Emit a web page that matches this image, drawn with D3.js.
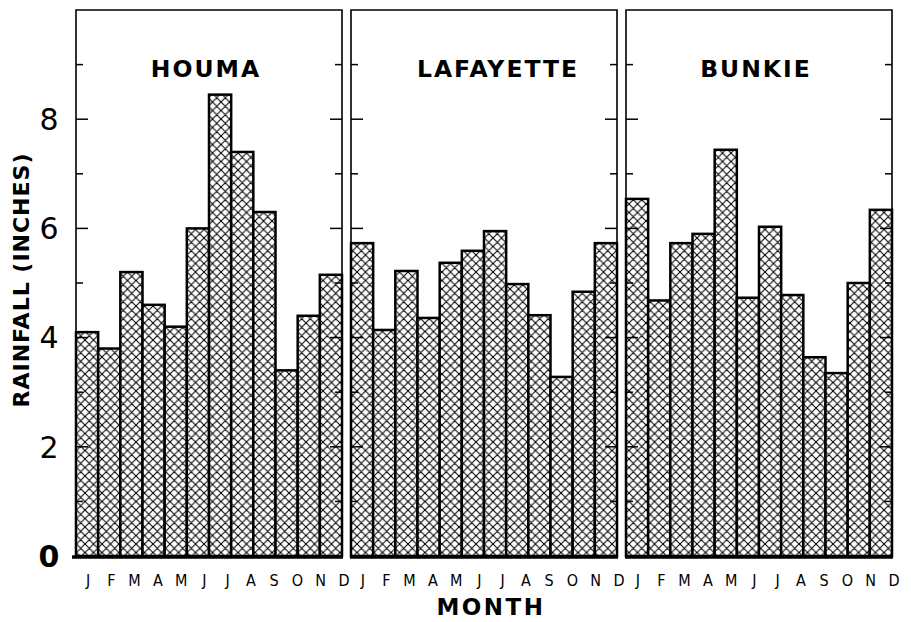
<!DOCTYPE html>
<html>
<head>
<meta charset="utf-8">
<script src="https://cdn.jsdelivr.net/npm/d3@7"></script>
<style>
  body { margin: 0; background: #fff; }
  text { fill: #000; }
</style>
</head>
<body>
<svg id="chart" width="911" height="622"></svg>
<script>
const months = ["J", "F", "M", "A", "M", "J", "J", "A", "S", "O", "N", "D"];
const stations = ["HOUMA", "LAFAYETTE", "BUNKIE"];
const houma = [4.1, 3.8, 5.2, 4.6, 4.2, 6.0, 8.45, 7.4, 6.3, 3.4, 4.4, 5.15];
const lafayette = [5.73, 4.14, 5.22, 4.36, 5.37, 5.59, 5.95, 4.98, 4.41, 3.28, 4.84, 5.73];
const bunkie = [6.54, 4.68, 5.73, 5.9, 7.44, 4.73, 6.03, 4.78, 3.64, 3.35, 5.0, 6.34];
const yLabels = [0, 2, 4, 6, 8];
const yMinorTicks = [1, 2, 3, 4, 5, 6, 7, 8, 9];

const series = [houma, lafayette, bunkie];

const svg = d3.select("#chart");

// cross-hatch fill
const defs = svg.append("defs");
const pat = defs.append("pattern")
  .attr("id", "xhatch")
  .attr("patternUnits", "userSpaceOnUse")
  .attr("width", 8.5)
  .attr("height", 8.5);
pat.append("rect").attr("width", 8.5).attr("height", 8.5).attr("fill", "#fff");
pat.append("path")
  .attr("d", "M0,0L8.5,8.5M8.5,0L0,8.5M-1,7.5L1,9.5M7.5,-1L9.5,1M-1,1L1,-1M7.5,9.5L9.5,7.5")
  .attr("stroke", "#000")
  .attr("stroke-width", 1.05);

const y = d3.scaleLinear().domain([0, 10]).range([556, 10]);

const panel = d3.scaleBand()
  .domain(stations)
  .range([76, 892])
  .paddingInner(0.0327);

const monthIdx = d3.range(months.length);

stations.forEach((name, si) => {
  const x0 = panel(name);
  const x1 = x0 + panel.bandwidth();
  const g = svg.append("g");

  const x = d3.scaleBand().domain(monthIdx).range([x0, x1]);
  // month letters sit a little to the right of the bar centres in the original
  const xl = d3.scalePoint().domain(monthIdx).range([x0 + 12, x1 + 2]);

  // bars
  g.selectAll("rect.bar")
    .data(series[si])
    .enter()
    .append("rect")
    .attr("class", "bar")
    .attr("x", (d, i) => x(i))
    .attr("y", (d) => y(d))
    .attr("width", x.bandwidth())
    .attr("height", (d) => y(0) - y(d))
    .attr("fill", "url(#xhatch)")
    .attr("stroke", "#000")
    .attr("stroke-width", 2.5);

  // frame
  g.append("path")
    .attr("d", `M${x0},${y(0)}V${y(10)}H${x1}V${y(0)}`)
    .attr("fill", "none")
    .attr("stroke", "#000")
    .attr("stroke-width", 1.6);

  // baseline
  g.append("line")
    .attr("x1", x0 - (si === 0 ? 4 : 1))
    .attr("x2", x1 + 1)
    .attr("y1", y(0) + 1)
    .attr("y2", y(0) + 1)
    .attr("stroke", "#000")
    .attr("stroke-width", 3.5);

  // inner ticks on both sides
  const tickLen = (v) => (v % 2 === 0 ? 12 : 7);
  g.selectAll("line.tl")
    .data(yMinorTicks)
    .enter()
    .append("line")
    .attr("x1", x0)
    .attr("x2", (d) => x0 + tickLen(d))
    .attr("y1", (d) => y(d))
    .attr("y2", (d) => y(d))
    .attr("stroke", "#000")
    .attr("stroke-width", 1.5);
  g.selectAll("line.tr")
    .data(yMinorTicks)
    .enter()
    .append("line")
    .attr("x1", x1)
    .attr("x2", (d) => x1 - tickLen(d))
    .attr("y1", (d) => y(d))
    .attr("y2", (d) => y(d))
    .attr("stroke", "#000")
    .attr("stroke-width", 1.5);

  // station title
  g.append("text")
    .attr("x", x0 + panel.bandwidth() / 2 + (si === 1 ? 14 : -3))
    .attr("y", 77)
    .attr("text-anchor", "middle")
    .attr("font-family", "DejaVu Sans")
    .attr("font-weight", "bold")
    .attr("font-size", 23.5)
    .attr("letter-spacing", 2)
    .text(name);

  // month letters
  g.selectAll("text.m")
    .data(monthIdx)
    .enter()
    .append("text")
    .attr("x", (i) => xl(i))
    .attr("y", 586)
    .attr("text-anchor", "middle")
    .attr("font-family", "DejaVu Sans Condensed, DejaVu Sans")
    .attr("font-stretch", "condensed")
    .attr("font-size", 16)
    .text((i) => months[i]);
});

// y labels
svg.selectAll("text.yl")
  .data(yLabels)
  .enter()
  .append("text")
  .attr("x", 49)
  .attr("y", (d) => y(d))
  .attr("dy", "0.36em")
  .attr("text-anchor", "middle")
  .attr("font-family", "DejaVu Sans")
  .attr("font-weight", (d) => (d === 0 ? "bold" : "normal"))
  .attr("font-size", 30)
  .text((d) => d);

// axis titles
svg.append("text")
  .attr("transform", "translate(29,280) rotate(-90)")
  .attr("text-anchor", "middle")
  .attr("font-family", "DejaVu Sans")
  .attr("font-weight", "bold")
  .attr("font-size", 22)
  .attr("letter-spacing", 1)
  .text("RAINFALL (INCHES)");

svg.append("text")
  .attr("x", 491)
  .attr("y", 615)
  .attr("text-anchor", "middle")
  .attr("font-family", "DejaVu Sans")
  .attr("font-weight", "bold")
  .attr("font-size", 23)
  .attr("letter-spacing", 2.5)
  .text("MONTH");
</script>
</body>
</html>
